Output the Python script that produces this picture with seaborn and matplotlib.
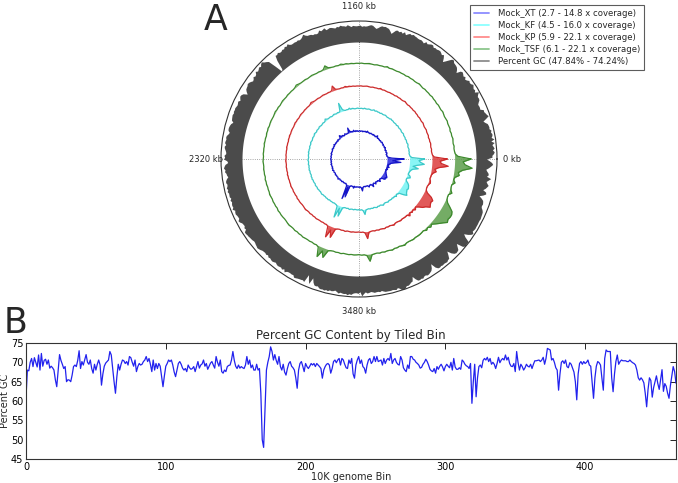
import numpy as np
import pandas as pd
import matplotlib
matplotlib.use('Agg')
import matplotlib.pyplot as plt
from matplotlib.lines import Line2D
import seaborn as sns

# percent GC per 10 kb bin (panel B, also outer grey ring of panel A)
gc_percent = [
    61.0, 68.0, 67.8, 70.0, 71.0, 68.9, 71.2, 70.0, 68.8, 71.9,
    68.0, 72.3, 69.0, 70.5, 70.8, 69.5, 70.6, 68.5, 69.0, 68.6,
    68.0, 65.5, 63.7, 68.0, 72.0, 70.5, 69.5, 68.4, 68.9, 65.0,
    65.5, 65.4, 65.0, 66.7, 68.9, 69.3, 68.9, 70.5, 73.0, 68.4,
    70.2, 69.3, 70.6, 72.0, 70.0, 69.5, 70.6, 68.4, 67.2, 69.5,
    68.0, 69.5, 70.6, 69.3, 64.1, 67.0, 69.0, 69.8, 70.2, 70.6,
    72.8, 71.9, 68.5, 65.0, 62.0, 66.3, 69.5, 68.0, 69.5, 70.6,
    70.4, 69.7, 70.2, 69.3, 71.5, 71.2, 70.0, 69.0, 70.6, 67.6,
    68.9, 69.7, 69.3, 69.5, 70.2, 70.6, 71.5, 70.2, 71.0, 69.5,
    67.6, 70.6, 68.0, 69.7, 68.4, 69.7, 69.0, 66.3, 63.7, 66.5,
    69.0, 69.7, 70.6, 70.2, 70.6, 69.3, 67.5, 66.3, 68.0, 69.7,
    70.2, 69.5, 68.5, 68.0, 68.4, 67.6, 69.3, 68.6, 68.2, 68.4,
    68.9, 67.6, 68.9, 70.2, 68.5, 69.3, 69.6, 70.6, 69.0, 69.7,
    68.2, 69.0, 69.8, 70.2, 69.3, 68.5, 71.5, 70.0, 69.0, 70.6,
    67.6, 67.2, 68.0, 67.6, 68.9, 69.2, 69.3, 70.6, 72.8, 70.5,
    69.0, 68.4, 69.3, 68.5, 68.9, 68.6, 68.4, 69.3, 71.5, 69.5,
    70.6, 68.6, 69.3, 68.0, 68.0, 69.5, 68.0, 68.4, 62.0, 50.0,
    48.0, 58.0, 68.0, 70.0, 71.5, 74.0, 72.8, 70.6, 72.0, 70.5,
    69.5, 71.5, 68.9, 68.0, 69.5, 67.5, 66.7, 68.4, 69.7, 70.2,
    69.0, 68.6, 68.0, 66.0, 63.3, 68.0, 69.7, 70.2, 69.0, 67.6,
    69.7, 68.9, 68.4, 69.0, 69.7, 69.3, 69.7, 68.9, 69.7, 69.3,
    68.9, 68.4, 65.9, 68.0, 68.9, 69.5, 69.7, 69.3, 67.2, 68.4,
    70.2, 70.6, 69.9, 70.6, 71.0, 69.3, 71.0, 70.6, 69.5, 68.6,
    68.4, 70.6, 69.7, 71.0, 67.0, 65.9, 69.3, 70.6, 71.5, 69.7,
    70.6, 68.9, 68.5, 67.2, 69.3, 70.6, 71.0, 69.7, 70.2, 71.5,
    70.2, 71.5, 70.2, 70.4, 70.6, 69.3, 71.0, 69.7, 70.6, 71.0,
    70.5, 72.3, 69.7, 70.6, 71.0, 70.0, 69.5, 69.3, 71.5, 70.6,
    68.6, 68.0, 67.6, 69.3, 68.4, 71.5, 71.5, 70.8, 70.6, 70.0,
    69.7, 69.3, 68.5, 68.7, 69.5, 70.0, 70.8, 70.2, 69.3, 68.2,
    67.8, 67.6, 68.4, 67.2, 68.9, 68.2, 69.0, 69.5, 68.8, 67.8,
    68.9, 69.5, 69.0, 68.6, 70.0, 68.0, 71.0, 68.8, 68.2, 68.2,
    68.6, 68.2, 70.6, 70.2, 69.5, 69.1, 68.9, 68.4, 69.7, 59.4,
    65.0, 69.5, 61.1, 66.0, 68.9, 69.3, 68.6, 70.5, 71.0, 70.6,
    71.3, 70.2, 71.0, 69.5, 70.0, 69.5, 68.4, 69.7, 71.3, 69.9,
    70.6, 71.0, 70.6, 71.9, 70.6, 71.3, 69.7, 69.0, 68.9, 69.7,
    67.6, 72.8, 70.0, 68.0, 69.5, 68.9, 68.0, 68.6, 69.5, 69.0,
    68.8, 69.5, 68.4, 69.5, 70.4, 70.4, 70.5, 70.6, 70.2, 70.6,
    71.3, 69.5, 71.0, 73.6, 73.4, 73.2, 70.6, 71.0, 70.0, 68.6,
    68.0, 62.8, 67.0, 70.0, 70.4, 69.7, 70.6, 68.9, 68.6, 69.9,
    69.5, 68.5, 67.5, 65.0, 60.3, 67.0, 69.7, 70.2, 69.5, 70.2,
    69.7, 70.0, 70.6, 69.3, 69.0, 65.0, 60.7, 66.0, 69.0, 70.2,
    69.9, 69.3, 65.9, 62.8, 71.0, 73.2, 72.8, 72.8, 72.8, 66.0,
    62.4, 67.0, 70.2, 71.9, 69.5, 70.2, 70.6, 70.4, 70.4, 70.4,
    70.2, 70.2, 70.6, 70.2, 69.9, 69.7, 69.3, 68.0, 66.0, 65.4,
    66.0, 65.5, 64.7, 62.0, 58.5, 63.0, 66.0, 65.3, 61.0, 63.5,
    65.0, 66.5, 64.5, 63.0, 65.5, 68.1, 62.5, 64.5, 63.8, 62.0,
    60.7, 64.0, 66.5, 68.9, 67.6, 64.6,
]

# coverage per 20 kb bin, four libraries
cov_xt = [
    14.8, 7.5, 5.5, 4.8, 4.4, 4.7, 4.2, 4.6, 4.9, 4.3, 4.5, 4.8, 4.1, 4.6, 4.4, 5.0, 4.3, 4.7, 4.5, 4.2, 4.8, 4.4, 4.6, 4.9, 4.3, 4.5, 4.7, 4.2, 4.6,
    4.4, 4.8, 4.3, 4.6, 5.6, 4.5, 4.2, 4.7, 4.4, 4.9, 4.3, 4.6, 4.5, 4.8, 4.2, 4.6, 4.4, 4.7, 5.2, 4.3, 4.5, 4.8, 4.4, 4.6, 4.2, 4.7, 4.5, 4.3, 4.8,
    4.5, 4.2, 4.7, 4.4, 4.9, 4.3, 4.6, 5.3, 4.4, 4.5, 4.8, 5.0, 5.2, 7.5, 4.8, 4.4, 4.7, 4.3, 4.6, 5.1, 4.4, 4.2, 4.8, 5.0, 4.5, 5.4, 6.0, 4.7, 4.3,
    4.6, 4.4, 4.9, 4.2, 4.7, 4.5, 4.3, 4.8, 4.4, 4.6, 5.1, 4.3, 4.5, 4.7, 4.2, 4.6, 4.9, 4.4, 4.5, 4.3, 4.7, 4.5, 4.8, 4.2, 4.6, 4.4, 4.7, 4.3, 4.5,
    4.8, 4.4, 4.6, 4.2, 4.7, 4.5, 4.3, 4.9, 4.4, 4.6, 4.5, 4.2, 4.8, 4.4, 4.6, 5.0, 4.3, 4.5, 4.7, 4.4, 4.2, 4.6, 4.8, 4.3, 4.5, 4.7, 4.4, 4.6, 5.2,
    4.5, 4.3, 4.7, 4.4, 4.6, 4.8, 4.2, 4.5, 4.7, 4.4, 4.6, 4.3, 4.9, 5.4, 13.6, 6.0, 12.0, 5.2, 4.6, 4.4, 4.7, 4.5, 5.5, 4.3, 4.6, 4.8, 4.4, 4.5, 4.7,
    4.4, 4.8, 4.5, 5.2, 7.0, 5.0, 4.6, 4.4, 4.8, 4.5, 4.7, 4.4, 5.0, 5.6, 4.6, 4.8, 4.5, 5.3, 6.5, 4.9, 4.6, 5.0, 5.8, 4.7, 4.9, 5.1, 4.8, 5.3, 6.3,
    5.2, 5.0, 5.4, 5.5, 7.0, 7.5, 7.0, 7.8, 7.5, 7.0, 6.5, 6.0, 5.8, 5.2, 5.5, 5.0, 6.0, 5.2, 5.5, 6.5, 5.2, 6.0, 5.5, 6.5, 7.0, 9.0, 13.0, 8.0, 10.0,
]
cov_kf = [
    16.0, 8.0, 6.8, 6.5, 6.3, 6.6, 6.4, 6.7, 6.5, 6.3, 6.6, 6.8, 6.4, 6.5, 6.7, 6.3, 6.6, 6.5, 6.4, 6.8, 6.5, 6.3, 6.6, 6.7, 6.4, 6.5, 6.8, 6.3, 6.6,
    6.5, 6.4, 6.7, 6.6, 6.9, 6.4, 6.5, 6.3, 6.6, 6.8, 6.5, 6.4, 6.7, 6.3, 6.6, 6.5, 6.8, 6.4, 7.0, 6.5, 6.3, 6.6, 6.7, 6.4, 6.5, 6.8, 6.3, 6.6, 6.5,
    6.4, 6.7, 6.5, 6.3, 6.6, 6.8, 6.4, 7.2, 6.5, 6.6, 6.4, 6.7, 7.5, 12.0, 7.0, 6.5, 6.8, 6.4, 6.6, 6.9, 6.5, 6.3, 6.7, 6.6, 6.5, 6.8, 7.6, 6.6, 6.4,
    6.7, 6.5, 6.3, 6.6, 6.8, 6.4, 6.5, 6.7, 6.3, 6.6, 6.9, 6.5, 6.4, 6.7, 6.5, 6.3, 6.6, 6.8, 6.4, 6.5, 6.7, 6.3, 6.6, 6.5, 6.8, 6.4, 6.6, 6.5, 6.3,
    6.6, 6.8, 6.4, 6.5, 6.7, 6.3, 6.6, 6.5, 6.8, 6.4, 6.6, 6.5, 6.3, 6.7, 6.5, 6.8, 6.4, 6.6, 6.5, 6.3, 6.7, 6.6, 6.4, 6.8, 6.5, 6.6, 6.4, 6.7, 6.9,
    6.5, 6.6, 6.4, 6.7, 6.5, 6.8, 6.3, 6.6, 6.5, 6.7, 6.4, 6.6, 6.8, 7.5, 14.5, 8.0, 13.0, 7.2, 6.6, 6.5, 6.7, 6.4, 7.0, 6.6, 6.5, 6.8, 6.4, 6.6, 6.7,
    6.5, 6.8, 6.6, 7.4, 9.8, 7.0, 6.7, 6.5, 6.8, 6.6, 6.9, 6.5, 6.8, 7.2, 6.7, 6.9, 6.6, 7.0, 7.5, 6.8, 6.7, 7.0, 7.3, 6.9, 7.0, 7.2, 6.9, 7.3, 7.0,
    8.0, 7.0, 7.5, 8.0, 10.5, 12.5, 11.5, 11.0, 10.5, 11.0, 10.5, 10.0, 9.0, 7.5, 7.0, 7.2, 9.0, 8.5, 7.0, 7.2, 7.5, 8.0, 9.0, 12.5, 9.0, 11.5, 16.0, 13.5, 12.5,
]
cov_kp = [
    21.0, 10.0, 8.5, 8.1, 7.9, 8.2, 7.8, 8.0, 8.3, 7.9, 8.1, 7.7, 8.2, 8.0, 7.9, 8.3, 8.0, 7.8, 8.1, 8.4, 7.9, 8.0, 8.2, 7.8, 8.1, 8.0, 8.3, 7.9, 8.1,
    8.0, 8.2, 7.8, 8.1, 8.6, 8.0, 7.9, 8.2, 8.0, 8.3, 7.8, 8.1, 8.0, 8.2, 7.9, 8.1, 8.3, 8.0, 8.7, 7.9, 8.1, 8.0, 8.2, 7.8, 8.0, 8.3, 8.1, 7.9, 8.2,
    8.0, 8.1, 7.9, 8.2, 8.0, 8.4, 8.1, 8.8, 8.0, 8.2, 7.9, 8.1, 8.5, 12.0, 8.6, 8.0, 8.2, 7.9, 8.1, 8.3, 8.0, 7.8, 8.2, 8.1, 8.0, 8.4, 9.0, 8.2, 7.9,
    8.1, 8.0, 8.2, 7.9, 8.1, 8.3, 8.0, 7.8, 8.2, 8.0, 8.4, 8.1, 7.9, 8.0, 8.2, 8.1, 7.9, 8.3, 8.0, 8.2, 7.8, 8.1, 8.0, 8.3, 7.9, 8.1, 8.0, 8.2, 7.9,
    8.1, 8.3, 8.0, 7.9, 8.2, 8.0, 8.1, 7.8, 8.3, 8.0, 8.2, 7.9, 8.1, 8.0, 8.4, 8.1, 7.9, 8.2, 8.0, 8.1, 7.8, 8.3, 8.0, 8.2, 8.1, 7.9, 8.0, 8.3, 8.6,
    8.1, 8.0, 8.3, 7.9, 8.2, 8.0, 8.4, 8.1, 8.0, 8.2, 7.9, 8.3, 8.1, 9.2, 18.0, 11.0, 17.0, 9.0, 8.2, 8.0, 8.3, 8.1, 8.6, 8.0, 8.2, 8.4, 8.1, 8.3, 8.2,
    8.0, 8.4, 8.2, 9.0, 14.0, 8.8, 8.3, 8.1, 8.5, 8.2, 8.6, 8.3, 8.5, 9.0, 8.4, 8.7, 8.4, 8.9, 9.5, 8.6, 8.5, 8.8, 9.2, 8.7, 8.9, 9.0, 8.8, 10.8, 8.8,
    10.0, 9.0, 10.5, 9.0, 11.0, 14.0, 15.6, 19.0, 18.0, 17.2, 18.0, 15.6, 10.8, 9.0, 8.5, 8.5, 9.0, 10.0, 9.5, 8.5, 8.8, 9.0, 10.0, 12.5, 11.0, 14.0, 22.1, 16.0, 15.0,
]
cov_tsf = [
    21.0, 11.0, 9.0, 8.6, 8.4, 8.7, 8.3, 8.5, 8.8, 8.4, 8.6, 8.2, 8.7, 8.5, 8.4, 8.8, 8.5, 8.3, 8.6, 8.9, 8.4, 8.5, 8.7, 8.3, 8.6, 8.5, 8.8, 8.4, 8.6,
    8.5, 8.7, 8.3, 8.6, 9.0, 8.5, 8.4, 8.7, 8.5, 8.8, 8.3, 8.6, 8.5, 8.7, 8.4, 8.6, 8.8, 8.5, 9.2, 8.4, 8.6, 8.5, 8.7, 8.3, 8.5, 8.8, 8.6, 8.4, 8.7,
    8.5, 8.6, 8.4, 8.7, 8.5, 8.9, 8.6, 9.2, 8.5, 8.7, 8.4, 8.6, 9.0, 11.2, 9.0, 8.5, 8.7, 8.4, 8.6, 8.8, 8.5, 8.3, 8.7, 8.6, 8.5, 8.9, 9.5, 8.7, 8.4,
    8.6, 8.5, 8.7, 8.4, 8.6, 8.8, 8.5, 8.3, 8.7, 8.5, 8.9, 8.6, 8.4, 8.5, 8.7, 8.6, 8.4, 8.8, 8.5, 8.7, 8.3, 8.6, 8.5, 8.8, 8.4, 8.6, 8.5, 8.7, 8.4,
    8.6, 8.8, 8.5, 8.4, 8.7, 8.5, 8.6, 8.3, 8.8, 8.5, 8.7, 8.4, 8.6, 8.5, 8.9, 8.6, 8.4, 8.7, 8.5, 8.6, 8.3, 8.8, 8.5, 8.7, 8.6, 8.4, 8.5, 8.8, 9.0,
    8.6, 8.5, 8.8, 8.4, 8.7, 8.5, 8.9, 8.6, 8.5, 8.7, 8.4, 8.8, 8.6, 9.6, 16.5, 11.0, 15.5, 9.4, 8.7, 8.5, 8.8, 8.6, 9.0, 8.5, 8.7, 8.9, 8.6, 8.8, 8.7,
    8.5, 8.9, 8.7, 9.4, 14.0, 9.2, 8.8, 8.6, 9.0, 8.7, 9.1, 8.8, 9.0, 9.5, 8.9, 9.2, 8.9, 9.4, 10.0, 9.1, 9.0, 9.3, 9.6, 9.2, 9.4, 9.5, 9.3, 9.0, 10.5,
    9.5, 11.0, 10.0, 12.0, 14.0, 16.0, 18.5, 17.5, 18.0, 18.0, 17.0, 14.0, 11.0, 9.5, 9.0, 9.0, 11.0, 9.5, 9.0, 9.0, 11.0, 9.5, 10.0, 13.0, 12.0, 15.0, 22.1, 16.5, 15.0,
]

track_lo = [2.7, 4.5, 5.9, 6.1]
track_hi = [14.8, 16.0, 22.1, 22.1]
track_typ = [4.5, 6.5, 8.0, 8.5]
gc_lo, gc_hi = 47.84, 74.24
angle_labels = ['0 kb', '1160 kb', '2320 kb', '3480 kb']
leg_labels = [
    'Mock_XT (2.7 - 14.8 x coverage)',
    'Mock_KF (4.5 - 16.0 x coverage)',
    'Mock_KP (5.9 - 22.1 x coverage)',
    'Mock_TSF (6.1 - 22.1 x coverage)',
    'Percent GC (47.84% - 74.24%)',
]

sns.set_style('white')
plt.rcParams['font.family'] = ['DejaVu Sans']
plt.rcParams['xtick.direction'] = 'in'
plt.rcParams['ytick.direction'] = 'in'

fig = plt.figure(figsize=(6.78, 4.83), dpi=100)

# ---- panel A: circular genome plot
axc = fig.add_axes([221 / 678, 1 - 297 / 483, 276 / 678, 276 / 483], projection='polar')
axc.set_ylim(0, 138)

line_cols = ['#1414c8', '#3cc8c8', '#cc2b2b', '#3d8a2d']
fill_cols = ['#2a2ae0', '#74f4f4', '#dc3c3c', '#5c9e4a']
base_r = [25.0, 47.5, 70.5, 92.5]
height_r = [20.0, 18.0, 19.0, 21.0]

tracks = [cov_xt, cov_kf, cov_kp, cov_tsf]
for k, cov in enumerate(tracks):
    c = np.append(cov, cov[0])
    th = np.linspace(0, 2 * np.pi, len(c))
    scale = height_r[k] / (track_hi[k] - track_lo[k])
    r = base_r[k] + scale * (c - track_lo[k])
    rb = base_r[k] + scale * (track_typ[k] - track_lo[k])
    axc.fill_between(th, rb, np.maximum(r, rb), color=fill_cols[k], alpha=0.85, lw=0)
    axc.plot(th, r, color=line_cols[k], lw=0.9)

g = np.append(gc_percent, gc_percent[0])
th_gc = np.linspace(0, 2 * np.pi, len(g))
axc.fill_between(th_gc, 117, 117 + 21 * (g - gc_lo) / (gc_hi - gc_lo), color='#4b4b4b', lw=0)

axc.set_xticks(np.arange(4) * np.pi / 2)
axc.set_xticklabels(angle_labels, fontsize=6)
axc.set_yticks([])
axc.xaxis.grid(True, linestyle=':', color='#888888', lw=0.6)
axc.spines['polar'].set_linewidth(0.8)
axc.spines['polar'].set_color('#333333')

leg_cols = ['blue', 'cyan', 'red', 'green', 'black']
handles = [Line2D([0], [0], color=c, alpha=0.45, lw=1.3) for c in leg_cols]
lg = fig.legend(handles, leg_labels, loc='upper left', bbox_to_anchor=(470 / 678, 1 - 5 / 483),
                fontsize=6.1, frameon=True, fancybox=False, handlelength=1.8,
                handletextpad=1.0, borderpad=0.45, labelspacing=0.36, borderaxespad=0)
lg.get_frame().set_edgecolor('#333333')
lg.get_frame().set_linewidth(0.8)

fig.text(204 / 678, 1 - 30 / 483, 'A', fontsize=25, va='baseline')
fig.text(4 / 678, 1 - 333 / 483, 'B', fontsize=25, va='baseline')

# ---- panel B: GC line
df = pd.DataFrame({'bin': np.arange(len(gc_percent)), 'gc': gc_percent})
ax = fig.add_axes([26 / 678, 1 - 459 / 483, 650 / 678, 116 / 483])
sns.lineplot(data=df, x='bin', y='gc', ax=ax, color='#2222ee', lw=0.9)
ax.set_xlim(0, len(gc_percent) - 1)
ax.set_ylim(45, 75)
ax.set_xticks([0, 100, 200, 300, 400])
ax.set_yticks([45, 50, 55, 60, 65, 70, 75])
ax.tick_params(labelsize=7, top=True, right=True, length=4, width=0.6, colors='black', pad=2)
for s in ax.spines.values():
    s.set_linewidth(0.8)
    s.set_color('#333333')
ax.set_title('Percent GC Content by Tiled Bin', fontsize=8.5, pad=3)
ax.set_xlabel('10K genome Bin', fontsize=7, labelpad=0)
ax.set_ylabel('Percent GC', fontsize=7)
ax.yaxis.set_label_coords(-0.025, 0.5)

fig.savefig('out.png', dpi=100)
